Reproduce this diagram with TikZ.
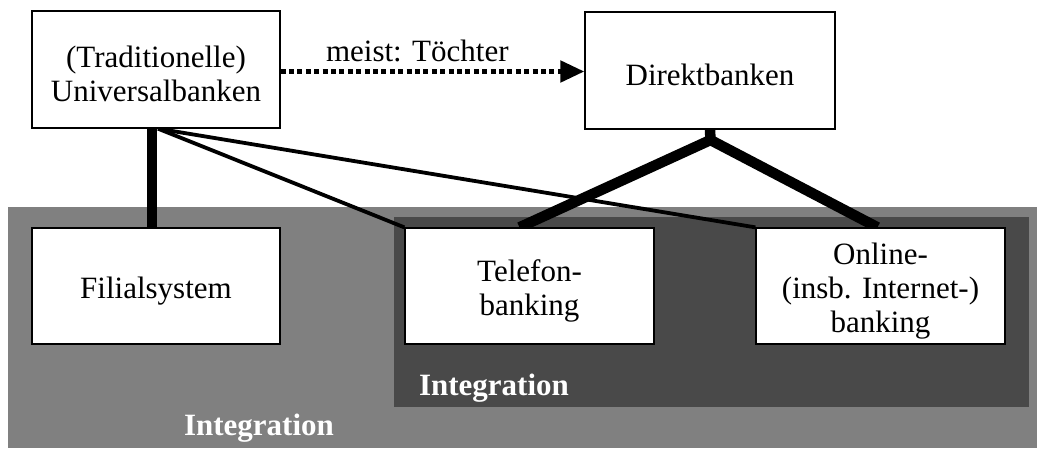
\documentclass[tikz,border=0pt]{standalone}
\usepackage{fontspec}
\setmainfont{Liberation Serif}
\usetikzlibrary{arrows.meta}
\pgfdeclarelayer{back}
\pgfdeclarelayer{lines}
\pgfsetlayers{back,lines,main}
\definecolor{outergray}{HTML}{808080}
\definecolor{innergray}{HTML}{494949}
% tall strut on the first line so the text block sits a little lower in its box
\newcommand{\firststrut}{\rule{0pt}{31pt}}
\tikzset{
  txt/.style={font=\fontsize{31}{34}\selectfont},
  box/.style={txt, draw=black, line width=1.3pt, fill=white, align=center,
              inner sep=0pt, minimum height=117pt},
  region/.style={inner sep=0pt, draw=none},
  intlabel/.style={font=\fontsize{31}{34}\selectfont\bfseries, text=white, anchor=base, inner sep=0pt},
  heavy/.style={line width=10.5pt, line cap=butt, line join=miter},
  light/.style={line width=3.8pt, line cap=butt},
  dotarrow/.style={line width=5pt, dash pattern=on 5pt off 3.4pt,
                   -{Triangle[length=24pt,width=21pt]}}
}
\begin{document}
\begin{tikzpicture}[x=1pt,y=-1pt]
  \useasboundingbox (0,0) rectangle (1041,450);

  % channel groups
  \begin{pgfonlayer}{back}
    \node[region, fill=outergray, minimum width=1029pt, minimum height=241pt] (outer) at (522.5,327.5) {};
    \node[region, fill=innergray, minimum width=635pt, minimum height=190pt] (inner) at (711.5,312) {};
  \end{pgfonlayer}
  \node[intlabel] (intout) at (259,435) {Integration};
  \node[intlabel] (intin) at (494,395) {Integration};

  % bank types
  \node[box, minimum width=248pt] (uni) at (156,69.5) {\firststrut(Traditionelle)\\Universalbanken};
  \node[box, minimum width=250pt] (dir) at (710,70.5) {\firststrut Direktbanken};

  % sales channels
  \node[box, minimum width=248pt, minimum height=116pt] (fil) at (156,286) {\firststrut Filialsystem};
  \node[box, minimum width=249pt, minimum height=116pt] (tel) at (529.5,286) {\firststrut Telefon-\\banking};
  \node[box, minimum width=249pt, minimum height=116pt] (onl) at (880.5,286) {\firststrut Online-\\(insb. Internet-)\\banking};

  \coordinate (apex) at (710.5,140);

  % connections
  \begin{pgfonlayer}{lines}
    \draw[heavy] ([xshift=-4pt]uni.south) -- ([xshift=-4pt]fil.north);
    \draw[light] ([xshift=2pt]uni.south) -- (tel.north west);
    \draw[light] ([xshift=2pt]uni.south) -- (onl.north west);
    \draw[heavy] (dir.south) -- (apex);
    \draw[heavy] ([xshift=-10pt]tel.north) -- (apex) -- ([xshift=-3pt]onl.north);
  \end{pgfonlayer}

  \draw[dotarrow] ([yshift=-2pt]uni.east) -- ([yshift=-2pt]uni.east -| dir.west)
    node[txt, pos=0.45, anchor=base, yshift=10pt, inner sep=0pt] (lbl) {meist: Töchter};
\end{tikzpicture}
\end{document}
